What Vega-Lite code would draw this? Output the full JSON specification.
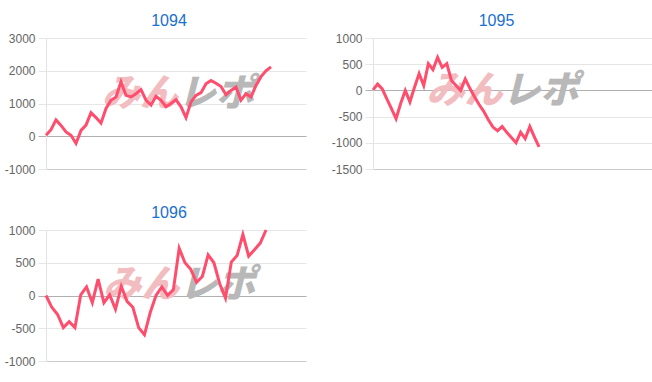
{
  "$schema": "https://vega.github.io/schema/vega-lite/v6.json",
  "padding": {"left": 4, "top": 13, "right": 0, "bottom": 0},
  "background": "white",
  "datasets": {
    "d1094": [
      {"i": 0, "v": 30}, {"i": 1, "v": 200}, {"i": 2, "v": 500}, {"i": 3, "v": 330}, {"i": 4, "v": 130},
      {"i": 5, "v": 30}, {"i": 6, "v": -220}, {"i": 7, "v": 180}, {"i": 8, "v": 340}, {"i": 9, "v": 720},
      {"i": 10, "v": 570}, {"i": 11, "v": 400}, {"i": 12, "v": 850}, {"i": 13, "v": 1100}, {"i": 14, "v": 1200},
      {"i": 15, "v": 1660}, {"i": 16, "v": 1250}, {"i": 17, "v": 1200}, {"i": 18, "v": 1300}, {"i": 19, "v": 1425},
      {"i": 20, "v": 1100}, {"i": 21, "v": 950}, {"i": 22, "v": 1220}, {"i": 23, "v": 1100}, {"i": 24, "v": 900},
      {"i": 25, "v": 1000}, {"i": 26, "v": 1120}, {"i": 27, "v": 900}, {"i": 28, "v": 570}, {"i": 29, "v": 1050},
      {"i": 30, "v": 1250}, {"i": 31, "v": 1330}, {"i": 32, "v": 1600}, {"i": 33, "v": 1700}, {"i": 34, "v": 1620},
      {"i": 35, "v": 1520}, {"i": 36, "v": 1270}, {"i": 37, "v": 1400}, {"i": 38, "v": 1500}, {"i": 39, "v": 1100},
      {"i": 40, "v": 1300}, {"i": 41, "v": 1200}, {"i": 42, "v": 1550}, {"i": 43, "v": 1820}, {"i": 44, "v": 2000},
      {"i": 45, "v": 2120}
    ],
    "d1095": [
      {"i": 0, "v": 10}, {"i": 1, "v": 120}, {"i": 2, "v": 30}, {"i": 3, "v": -160}, {"i": 4, "v": -350},
      {"i": 5, "v": -540}, {"i": 6, "v": -250}, {"i": 7, "v": 0}, {"i": 8, "v": -220}, {"i": 9, "v": 60},
      {"i": 10, "v": 320}, {"i": 11, "v": 95}, {"i": 12, "v": 510}, {"i": 13, "v": 395}, {"i": 14, "v": 630},
      {"i": 15, "v": 440}, {"i": 16, "v": 510}, {"i": 17, "v": 190}, {"i": 18, "v": 95}, {"i": 19, "v": 0},
      {"i": 20, "v": 220}, {"i": 21, "v": 40}, {"i": 22, "v": -120}, {"i": 23, "v": -270}, {"i": 24, "v": -400},
      {"i": 25, "v": -560}, {"i": 26, "v": -700}, {"i": 27, "v": -770}, {"i": 28, "v": -690}, {"i": 29, "v": -800},
      {"i": 30, "v": -900}, {"i": 31, "v": -1000}, {"i": 32, "v": -800}, {"i": 33, "v": -920}, {"i": 34, "v": -690},
      {"i": 35, "v": -890}, {"i": 36, "v": -1080}
    ],
    "d1096": [
      {"i": 0, "v": 0}, {"i": 1, "v": -180}, {"i": 2, "v": -290}, {"i": 3, "v": -490}, {"i": 4, "v": -400},
      {"i": 5, "v": -490}, {"i": 6, "v": 10}, {"i": 7, "v": 130}, {"i": 8, "v": -110}, {"i": 9, "v": 250},
      {"i": 10, "v": -110}, {"i": 11, "v": 10}, {"i": 12, "v": -210}, {"i": 13, "v": 140}, {"i": 14, "v": -90},
      {"i": 15, "v": -180}, {"i": 16, "v": -490}, {"i": 17, "v": -600}, {"i": 18, "v": -260}, {"i": 19, "v": 0},
      {"i": 20, "v": 130}, {"i": 21, "v": 0}, {"i": 22, "v": 90}, {"i": 23, "v": 720}, {"i": 24, "v": 500},
      {"i": 25, "v": 400}, {"i": 26, "v": 200}, {"i": 27, "v": 290}, {"i": 28, "v": 620}, {"i": 29, "v": 500},
      {"i": 30, "v": 180}, {"i": 31, "v": -40}, {"i": 32, "v": 510}, {"i": 33, "v": 610}, {"i": 34, "v": 930},
      {"i": 35, "v": 600}, {"i": 36, "v": 700}, {"i": 37, "v": 800}, {"i": 38, "v": 1000}
    ]
  },
  "columns": 2,
  "bounds": "flush",
  "spacing": {"row": 61, "column": 67},
  "concat": [
    {
      "width": 260, "height": 131,
      "title": {"text": "1094", "dx": -7},
      "layer": [
        {"data": {"values": [{}]}, "mark": {"type": "text", "text": "みん", "align": "right", "baseline": "middle", "font": "Noto Sans CJK JP", "fontSize": 38, "fontWeight": 900, "fontStyle": "italic", "color": "#f2bdc0"},
         "encoding": {"x": {"datum": 26.4, "type": "quantitative"}, "y": {"datum": 1250, "type": "quantitative"}}},
        {"data": {"values": [{}]}, "mark": {"type": "text", "text": "レポ", "align": "left", "baseline": "middle", "font": "Noto Sans CJK JP", "fontSize": 38, "fontWeight": 900, "fontStyle": "italic", "color": "#b8b8b8"},
         "encoding": {"x": {"datum": 26.4, "type": "quantitative"}, "y": {"datum": 1250, "type": "quantitative"}}},
        {"data": {"name": "d1094"}, "mark": {"type": "line", "color": "#ff4d6d", "strokeWidth": 3},
         "encoding": {
           "x": {"field": "i", "type": "quantitative", "title": null, "scale": {"domain": [0, 52], "nice": false, "zero": false}},
           "y": {"field": "v", "type": "quantitative", "title": null, "scale": {"domain": [-1000, 3000], "nice": false},
                 "axis": {"values": [-1000, 0, 1000, 2000, 3000], "tickCount": 20, "labelExpr": "'' + datum.value",
                          "gridColor": {"condition": {"test": "datum.value === 0", "value": "#b0b0b0"}, "value": "#e6e6e6"},
                          "tickColor": {"condition": {"test": "datum.value === 0", "value": "#b0b0b0"}, "value": "#e6e6e6"}}}
         }}
      ]
    },
    {
      "width": 280, "height": 131,
      "title": {"text": "1095", "dx": -16.5},
      "layer": [
        {"data": {"values": [{}]}, "mark": {"type": "text", "text": "みん", "align": "right", "baseline": "middle", "font": "Noto Sans CJK JP", "fontSize": 38, "fontWeight": 900, "fontStyle": "italic", "color": "#f2bdc0"},
         "encoding": {"x": {"datum": 28.1, "type": "quantitative"}, "y": {"datum": -40, "type": "quantitative"}}},
        {"data": {"values": [{}]}, "mark": {"type": "text", "text": "レポ", "align": "left", "baseline": "middle", "font": "Noto Sans CJK JP", "fontSize": 38, "fontWeight": 900, "fontStyle": "italic", "color": "#b8b8b8"},
         "encoding": {"x": {"datum": 28.1, "type": "quantitative"}, "y": {"datum": -40, "type": "quantitative"}}},
        {"data": {"name": "d1095"}, "mark": {"type": "line", "color": "#ff4d6d", "strokeWidth": 3},
         "encoding": {
           "x": {"field": "i", "type": "quantitative", "title": null, "scale": {"domain": [0, 60.7], "nice": false, "zero": false}},
           "y": {"field": "v", "type": "quantitative", "title": null, "scale": {"domain": [-1500, 1000], "nice": false},
                 "axis": {"values": [-1500, -1000, -500, 0, 500, 1000], "tickCount": 20, "labelExpr": "'' + datum.value",
                          "gridColor": {"condition": {"test": "datum.value === 0", "value": "#b0b0b0"}, "value": "#e6e6e6"},
                          "tickColor": {"condition": {"test": "datum.value === 0", "value": "#b0b0b0"}, "value": "#e6e6e6"}}}
         }}
      ]
    },
    {
      "width": 260, "height": 131,
      "title": {"text": "1096", "dx": -7},
      "layer": [
        {"data": {"values": [{}]}, "mark": {"type": "text", "text": "みん", "align": "right", "baseline": "middle", "font": "Noto Sans CJK JP", "fontSize": 38, "fontWeight": 900, "fontStyle": "italic", "color": "#f2bdc0"},
         "encoding": {"x": {"datum": 23.0, "type": "quantitative"}, "y": {"datum": 140, "type": "quantitative"}}},
        {"data": {"values": [{}]}, "mark": {"type": "text", "text": "レポ", "align": "left", "baseline": "middle", "font": "Noto Sans CJK JP", "fontSize": 38, "fontWeight": 900, "fontStyle": "italic", "color": "#b8b8b8"},
         "encoding": {"x": {"datum": 23.0, "type": "quantitative"}, "y": {"datum": 140, "type": "quantitative"}}},
        {"data": {"name": "d1096"}, "mark": {"type": "line", "color": "#ff4d6d", "strokeWidth": 3},
         "encoding": {
           "x": {"field": "i", "type": "quantitative", "title": null, "scale": {"domain": [0, 44.9], "nice": false, "zero": false}},
           "y": {"field": "v", "type": "quantitative", "title": null, "scale": {"domain": [-1000, 1000], "nice": false},
                 "axis": {"values": [-1000, -500, 0, 500, 1000], "tickCount": 20, "labelExpr": "'' + datum.value",
                          "gridColor": {"condition": {"test": "datum.value === 0", "value": "#b0b0b0"}, "value": "#e6e6e6"},
                          "tickColor": {"condition": {"test": "datum.value === 0", "value": "#b0b0b0"}, "value": "#e6e6e6"}}}
         }}
      ]
    }
  ],
  "config": {
    "view": {"stroke": null},
    "axis": {"labelFont": "Liberation Sans", "labelFontSize": 12, "labelColor": "#666666", "title": null, "labelOverlap": false},
    "axisX": {"labels": false, "ticks": false, "grid": false, "domain": true, "domainColor": "#cccccc", "domainWidth": 1},
    "axisY": {"domain": true, "domainColor": "#e3e3e3", "tickSize": 8, "labelPadding": 3, "grid": true, "labelOverlap": false, "tickCount": 20},
    "title": {"font": "Liberation Sans", "fontSize": 16, "fontWeight": "normal", "color": "#1a6fd0", "anchor": "middle", "frame": "group", "baseline": "alphabetic", "offset": 3}
  }
}
